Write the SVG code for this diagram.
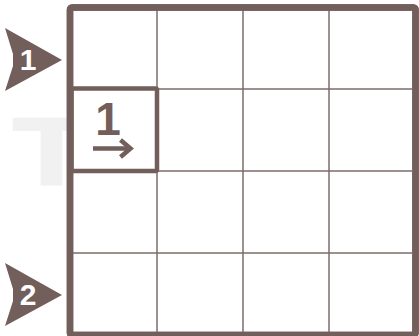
<svg xmlns="http://www.w3.org/2000/svg" width="419" height="336" viewBox="0 0 419 336">
  <style>
    .frame { fill: #ffffff; stroke: #725e5a; stroke-width: 6.5; stroke-linejoin: round; }
    .grid { stroke: #7d6b68; stroke-width: 1.5; fill: none; }
    .hl { fill: none; stroke: #725e5a; stroke-width: 4.5; stroke-linejoin: round; }
    .mark { fill: #725e5a; }
    .marknum { fill: #ffffff; font-family: "Liberation Sans", Arial, sans-serif; font-weight: bold; font-size: 30px; text-anchor: middle; }
    .clue { fill: #725e5a; font-family: "Liberation Sans", Arial, sans-serif; font-weight: bold; font-size: 46px; text-anchor: middle; }
    .arrow { fill: none; stroke: #725e5a; stroke-width: 4.5; }
    .wm { fill: #f1f1f1; font-family: "DejaVu Sans", sans-serif; font-weight: bold; font-size: 92px; text-anchor: middle; }
  </style>
  <rect width="419" height="336" fill="#ffffff"/>
  <g id="watermark">
    <text class="wm" transform="translate(51.5,186) scale(1.25,1)" x="0" y="0">T</text>
  </g>
  <g id="board">
    <rect class="frame" x="70" y="7.5" width="345.5" height="327.5" rx="2"/>
    <g class="grid">
      <line x1="157" y1="10" x2="157" y2="332"/>
      <line x1="243" y1="10" x2="243" y2="332"/>
      <line x1="329" y1="10" x2="329" y2="332"/>
      <line x1="73" y1="89" x2="412" y2="89"/>
      <line x1="73" y1="171" x2="412" y2="171"/>
      <line x1="73" y1="253" x2="412" y2="253"/>
    </g>
    <rect class="frame" x="70" y="7.5" width="345.5" height="327.5" rx="2" style="fill:none"/>
  </g>
  <g id="cell-1">
    <rect class="hl" x="71.5" y="88.5" width="85.5" height="82.5" rx="1.5"/>
    <text class="clue" x="108" y="135">1</text>
    <path class="arrow" d="M93 148.5 H131"/>
    <path class="arrow" d="M120.5 140 L130.5 148.5 L120.5 157"/>
  </g>
  <g id="marker-1">
    <polygon class="mark" points="5,28 62,60 5,91 13,66 13,54"/>
    <text class="marknum" x="28" y="70">1</text>
  </g>
  <g id="marker-2">
    <polygon class="mark" points="5,263 62,295 5,326 13,301 13,289"/>
    <text class="marknum" x="28" y="305">2</text>
  </g>
  <g id="connectors"/>
</svg>
